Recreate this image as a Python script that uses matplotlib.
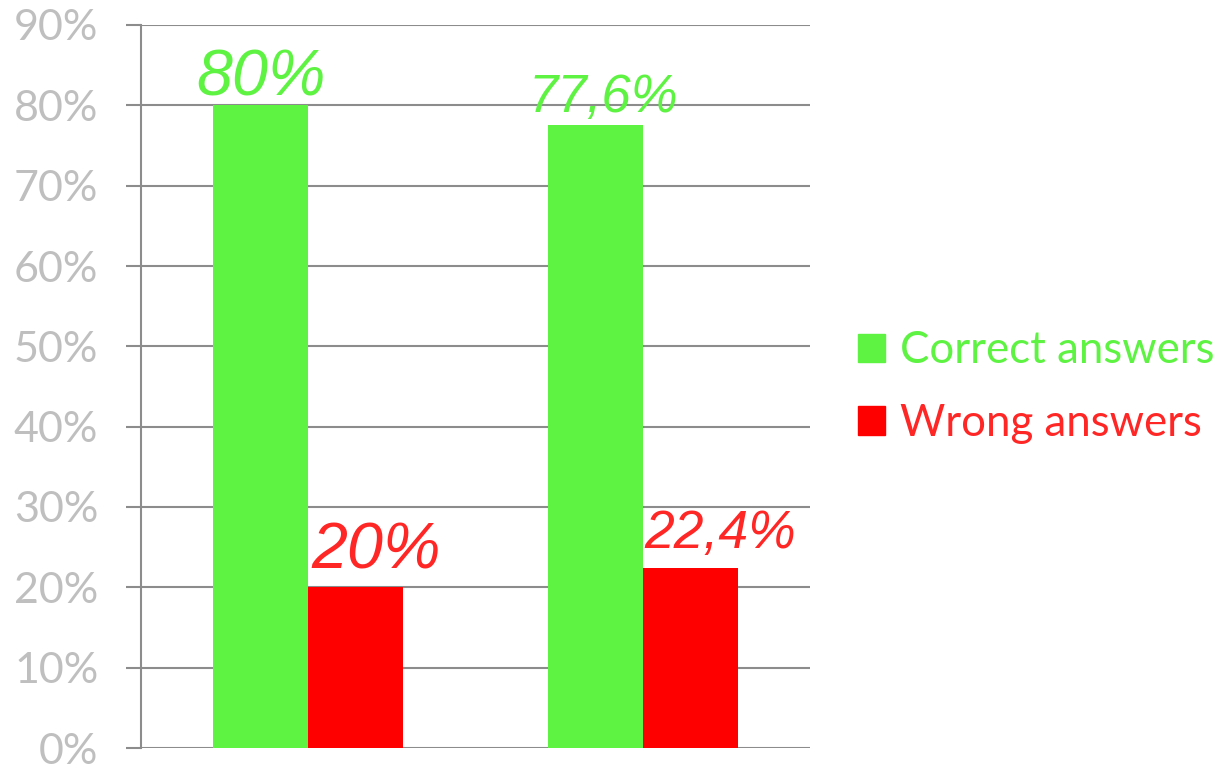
import matplotlib
matplotlib.use("Agg")
import matplotlib.pyplot as plt
from matplotlib.patches import Patch

# Data
groups = ["Group 1", "Group 2"]
correct = [80.0, 77.6]
wrong = [20.0, 22.4]
correct_labels = ["80%", "77,6%"]
wrong_labels = ["20%", "22,4%"]
series_names = ["Correct answers", "Wrong answers"]
y_ticks = [0, 10, 20, 30, 40, 50, 60, 70, 80, 90]
y_tick_labels = [f"{t}%" for t in y_ticks]

GREEN = "#5EF243"
RED = "#FF0000"
RED_TEXT = "#FF2626"
GRID = "#8C8C8C"
TICK_TXT = "#BFBFBF"

W, H = 1217, 765
fig = plt.figure(figsize=(W / 100, H / 100), dpi=100)
ax = fig.add_axes([141 / W, 17 / H, (810 - 141) / W, (748 - 25) / H])

bw = 0.284
xs = list(range(len(groups)))
bars_c = ax.bar([x - bw / 2 for x in xs], correct, width=bw, color=GREEN, zorder=3)
bars_w = ax.bar([x + bw / 2 for x in xs], wrong, width=bw, color=RED, zorder=3)

ax.set_xlim(-0.5, 1.5)
ax.set_ylim(0, 90)
ax.set_yticks(y_ticks)
ax.set_yticklabels(y_tick_labels, fontfamily="Lato", fontsize=31, color=TICK_TXT)
ax.set_xticks([])
ax.tick_params(axis="y", length=10.8, width=1.5, color=GRID, pad=20)
ax.yaxis.grid(True, color=GRID, linewidth=1.5, zorder=0)
for s in ["top", "right", "bottom"]:
    ax.spines[s].set_visible(False)
ax.spines["left"].set_color(GRID)
ax.spines["left"].set_linewidth(1.5)
ax.spines["left"].set_zorder(1)

# Value labels above bars
c_sizes = [46.5, 38]
c_offsets = [(0, 10), (8, 13)]
for x, v, lab, fs, off in zip(xs, correct, correct_labels, c_sizes, c_offsets):
    ax.annotate(lab, (x - bw / 2, v), xytext=off, textcoords="offset pixels",
                ha="center", va="baseline", fontsize=fs, fontstyle="italic",
                fontfamily="Liberation Sans", color=GREEN)
w_sizes = [46.5, 38.5]
w_offsets = [(20, 19), (30, 20)]
for x, v, lab, fs, off in zip(xs, wrong, wrong_labels, w_sizes, w_offsets):
    ax.annotate(lab, (x + bw / 2, v), xytext=off, textcoords="offset pixels",
                ha="center", va="baseline", fontsize=fs, fontstyle="italic",
                fontfamily="Liberation Sans", color=RED_TEXT)

handles = [Patch(color=GREEN), Patch(color=RED)]
leg = fig.legend(handles, series_names, loc="center left",
                 bbox_to_anchor=(858 / W, 1 - 387 / H), frameon=False,
                 prop={"family": "Lato", "size": 31.5},
                 labelcolor=[GREEN, RED_TEXT], handlelength=0.62, handleheight=0.62,
                 handletextpad=0.34, labelspacing=0.72, borderpad=0, borderaxespad=0)

fig.savefig("out.png", dpi=100)
